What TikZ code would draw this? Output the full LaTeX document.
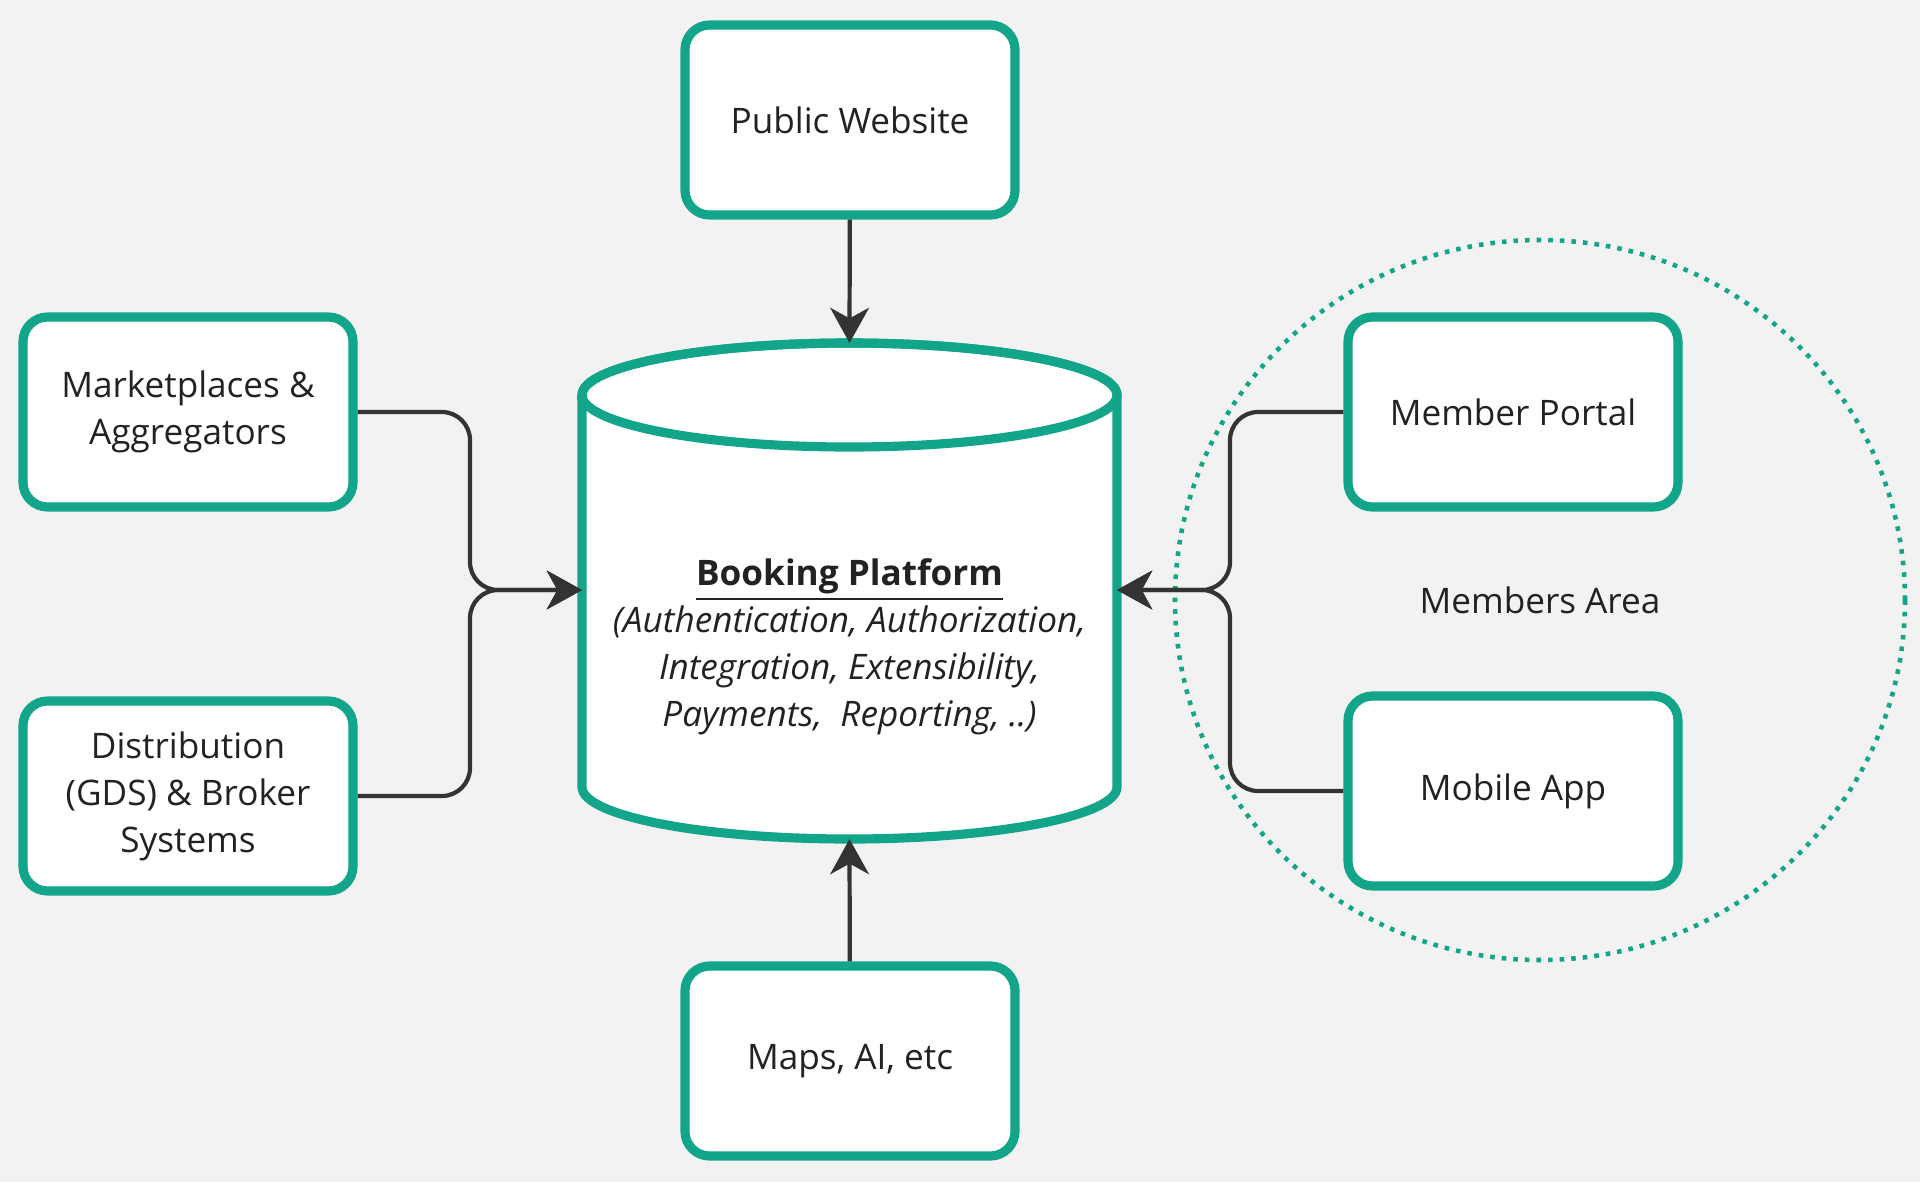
\documentclass[tikz,border=0pt]{standalone}
\usepackage{fontspec}
\setmainfont{Open Sans}
\usetikzlibrary{positioning,arrows.meta}
\definecolor{teal}{HTML}{12A58A}
\definecolor{ink}{HTML}{222222}
\definecolor{wire}{HTML}{333333}
\definecolor{paper}{HTML}{F2F2F2}
\tikzset{
        every node/.style={align=center,text=ink,font=\fontsize{10}{13.4}\selectfont},
        box/.style={draw=teal,line width=2.6pt,fill=white,rounded corners=7pt,minimum width=3.3cm,minimum height=1.9cm},
        link/.style={draw=wire,line width=1.2pt,rounded corners=8pt},
        tip/.style={-{Stealth[length=10pt,width=11pt,inset=3pt]}},
        }
\begin{document}
\begin{tikzpicture}

			% background.....................
			\fill [paper] (0,0) rectangle (19.2,11.82);
			\useasboundingbox (0,0) rectangle (19.2,11.82);

			% members area....................
			\draw [teal,line width=1.3pt,dotted] (15.4,5.82) ellipse (3.65 and 3.6);
			\node (area) at (15.4,5.82) {Members Area};

			% booking platform cylinder.......
			\filldraw [draw=teal,fill=white,line width=2.6pt] (5.82,7.87) -- (5.82,3.95)
				arc (180:360:2.675 and 0.52) -- (11.17,7.87) arc (0:180:2.675 and 0.52) -- cycle;
			\draw [teal,line width=2.6pt] (8.495,7.87) ellipse (2.675 and 0.52);
			\node (bp) [minimum width=5.35cm] at (8.495,5.35) {\textbf{\underline{Booking Platform}}\\
				\textit{(Authentication, Authorization,}\\ \textit{Integration, Extensibility,}\\ \textit{Payments,\ \ Reporting, ..)}};
			\coordinate (bptop) at (8.495,8.39);
			\coordinate (bpbot) at (8.495,3.43);
			\coordinate (bpW) at (5.82,5.92);
			\coordinate (bpE) at (11.17,5.92);

			% boxes...........................
			\node [box] (web) at (8.5,10.62) {Public Website};
			\node [box] (maps) at (8.5,1.21) {Maps, AI, etc};
			\node [box] (market) at (1.88,7.70) {Marketplaces \&\\ Aggregators};
			\node [box] (dist) at (1.88,3.86) {Distribution\\ (GDS) \& Broker\\ Systems};
			\node [box] (portal) at (15.13,7.70) {Member Portal};
			\node [box] (app) at (15.13,3.91) {Mobile App};

			% connectors......................
			\draw [link,tip] (web) -- (bptop);
			\draw [link,tip] (maps) -- (bpbot);
			\draw [link,tip] (market.east) -| (4.7,5.92) -- (bpW);
			\draw [link,tip] (dist.east) -| (4.7,5.92) -- (bpW);
			\draw [link,tip] (portal.west) -| (12.3,5.92) -- (bpE);
			\draw [link,tip] (app.west) -| (12.3,5.92) -- (bpE);
		\end{tikzpicture}
\end{document}
